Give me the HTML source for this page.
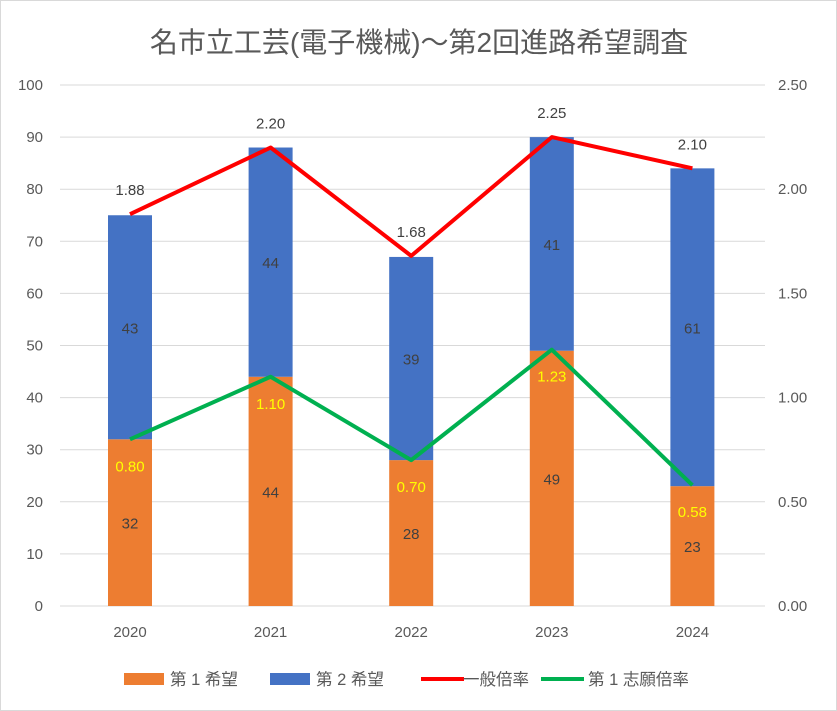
<!DOCTYPE html>
<html><head><meta charset="utf-8"><style>
html,body{margin:0;padding:0;background:#fff;}
svg{display:block;font-family:"Liberation Sans","Noto Sans CJK JP",sans-serif;}
</style></head><body>
<svg id="chart" width="837" height="711" viewBox="0 0 837 711">
<rect x="0.5" y="0.5" width="836" height="710" fill="#fff" stroke="#d9d9d9"/>
<text x="419" y="52" text-anchor="middle" font-size="28" fill="#595959">名市立工芸(電子機械)～第2回進路希望調査</text>
<g id="grid"></g><g id="bars"></g><g id="lines"></g><g id="labels"></g><g id="axes"></g>
<g id="legend"></g>
</svg>
<script>
const categories=["2020","2021","2022","2023","2024"];
const first=[32,44,28,49,23];
const second=[43,44,39,41,61];
const general=[1.88,2.20,1.68,2.25,2.10];
const firstRate=[0.80,1.10,0.70,1.23,0.58];
const leftTicks=[0,10,20,30,40,50,60,70,80,90,100];
const rightTicks=[0,0.5,1.0,1.5,2.0,2.5];
const NS="http://www.w3.org/2000/svg";
const y0=606,yTop=85,x0=60,step=140.6,bw=44;
const yL=v=>y0-(v/100)*(y0-yTop);
const yR=v=>y0-(v/2.5)*(y0-yTop);
const xC=i=>130+i*step;
function mk(tag,attrs,parent,txt){const e=document.createElementNS(NS,tag);for(const k in attrs)e.setAttribute(k,attrs[k]);if(txt!==undefined)e.textContent=txt;document.getElementById(parent).appendChild(e);return e;}
leftTicks.forEach(t=>{
 const g=mk('line',{x1:x0,x2:765,y1:yL(t),y2:yL(t),stroke:'#d9d9d9','stroke-width':1},'grid');
 
 
 const l=mk('text',{x:43,y:yL(t)+5,'text-anchor':'end','font-size':15,fill:'#595959'},'axes',String(t));
 
 
});
rightTicks.forEach(t=>{
 const l=mk('text',{x:778,y:yR(t)+5,'font-size':15,fill:'#595959'},'axes',t.toFixed(2));
 
 
});
categories.forEach((c,i)=>{
 const x=xC(i);
 const b1=mk('rect',{x:x-bw/2,y:yL(first[i]),width:bw,height:y0-yL(first[i]),fill:'#ED7D31'},'bars');
 
 
 const b2=mk('rect',{x:x-bw/2,y:yL(first[i]+second[i]),width:bw,height:yL(first[i])-yL(first[i]+second[i]),fill:'#4472C4'},'bars');
 
 
 const t1=mk('text',{x:x,y:(y0+yL(first[i]))/2+6,'text-anchor':'middle','font-size':15,fill:'#404040'},'labels',String(first[i]));
 
 
 const t2=mk('text',{x:x,y:(yL(first[i])+yL(first[i]+second[i]))/2+6,'text-anchor':'middle','font-size':15,fill:'#404040'},'labels',String(second[i]));
 
 
 const t3=mk('text',{x:x,y:yR(general[i])-19,'text-anchor':'middle','font-size':15,fill:'#404040'},'labels',general[i].toFixed(2));
 
 
 const t4=mk('text',{x:x,y:yR(firstRate[i])+32,'text-anchor':'middle','font-size':15,fill:'#FFFF00'},'labels',firstRate[i].toFixed(2));
 
 
 const xl=mk('text',{x:x,y:637,'text-anchor':'middle','font-size':15,fill:'#595959'},'axes',c);
 
 
});
const p1=mk('polyline',{points:general.map((v,i)=>xC(i)+','+yR(v)).join(' '),fill:'none',stroke:'#FF0000','stroke-width':4,'stroke-linejoin':'round'},'lines');


const p2=mk('polyline',{points:firstRate.map((v,i)=>xC(i)+','+yR(v)).join(' '),fill:'none',stroke:'#00B050','stroke-width':4,'stroke-linejoin':'round'},'lines');


const leg=[['rect','#ED7D31','第 1 希望',124,170],['rect','#4472C4','第 2 希望',270,316],['line','#FF0000','一般倍率',421,463],['line','#00B050','第 1 志願倍率',541,588]];
leg.forEach(([k,c,t,x,tx0])=>{
 let m;
 if(k==='rect'){m=mk('rect',{x:x,y:673,width:40,height:12,fill:c},'legend');}
 else{m=mk('line',{x1:x,x2:x+43,y1:679,y2:679,stroke:c,'stroke-width':4},'legend');}
 
 
 const tx=mk('text',{x:tx0,y:685,'font-size':16.5,fill:'#595959'},'legend',t);
 
 
});
</script>
</body></html>
